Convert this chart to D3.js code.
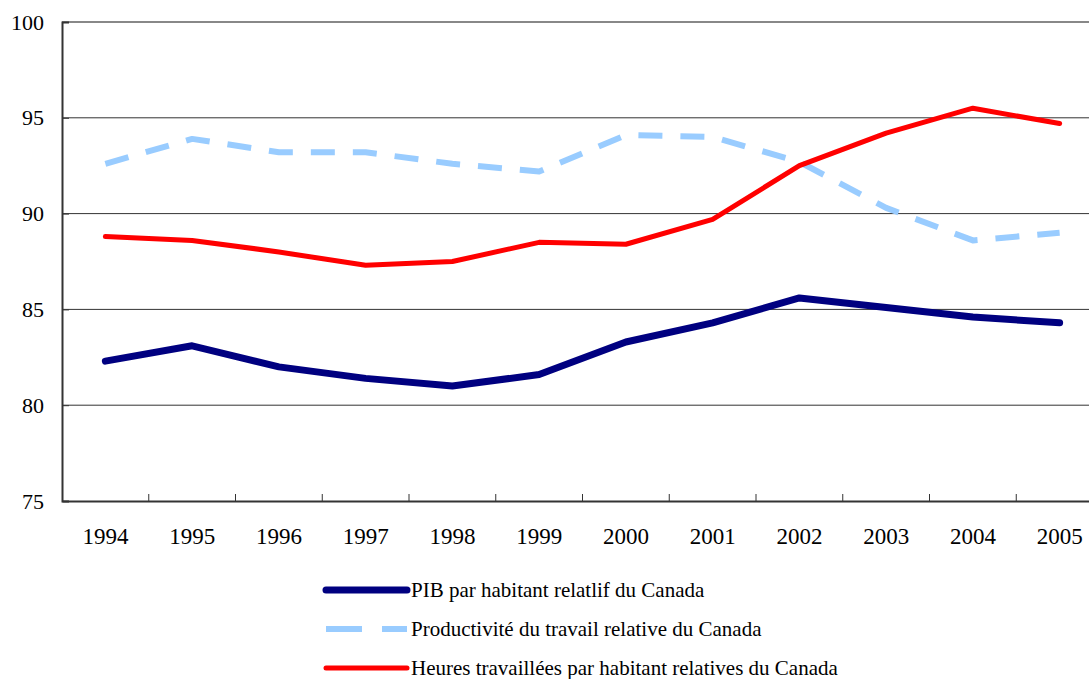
<!DOCTYPE html>
<html><head><meta charset="utf-8">
<script src="https://cdn.jsdelivr.net/npm/d3@7"></script>
<style>body{margin:0;background:#fff}svg{display:block}</style>
</head><body>
<script>
const years = ["1994","1995","1996","1997","1998","1999","2000","2001","2002","2003","2004","2005"];
const pib = [82.3,83.1,82.0,81.4,81.0,81.6,83.3,84.3,85.6,85.1,84.6,84.3];
const productivite = [92.6,93.9,93.2,93.2,92.6,92.2,94.1,94.0,92.7,90.3,88.6,89.0];
const heures = [88.8,88.6,88.0,87.3,87.5,88.5,88.4,89.7,92.5,94.2,95.5,94.7];
const yTicks = [75,80,85,90,95,100];
const seriesNames = ["PIB par habitant relatlif du Canada","Productivité du travail relative du Canada","Heures travaillées par habitant relatives du Canada"];

const W=1089,H=679;
const svg=d3.select("body").append("svg").attr("width",W).attr("height",H);
const font="'Liberation Serif','Times New Roman',serif";
const x=d3.scaleBand().domain(years).range([62,1103]);
const y=d3.scaleLinear().domain([75,100]).range([501,22]);

// gridlines
svg.append("g").selectAll("line").data(yTicks.filter(d=>d>75)).join("line")
  .attr("x1",62).attr("x2",1103).attr("y1",d=>y(d)).attr("y2",d=>y(d))
  .attr("stroke",d=>d===100?"#888":"#333").attr("stroke-width",d=>d===100?2:1);

// y axis
const ya=svg.append("g").attr("transform","translate(62,0)")
  .call(d3.axisRight(y).tickValues(yTicks).tickSize(7).tickFormat(d3.format("d")));
ya.attr("font-family",font);
ya.select(".domain").attr("stroke","#333").attr("stroke-width",2);
ya.selectAll(".tick line").attr("stroke","#333");
ya.selectAll("text").attr("x",-18).attr("text-anchor","end").style("font-family",font).attr("font-size",22).attr("fill","#000");

// x axis
const xa=svg.append("g").attr("transform","translate(0,501)")
  .call(d3.axisBottom(x).tickSize(0).tickPadding(0));
xa.attr("font-family",font);
xa.select(".domain").attr("stroke","#333").attr("stroke-width",2);
xa.selectAll("text").attr("y",43).attr("dy",0).style("font-family",font).attr("font-size",23).attr("fill","#000");
svg.append("g").selectAll("line").data(years).join("line")
  .attr("x1",d=>x(d)+x.bandwidth()).attr("x2",d=>x(d)+x.bandwidth())
  .attr("y1",501).attr("y2",494).attr("stroke","#333").attr("stroke-width",1);

const series=[
  {name:seriesNames[0],data:pib,color:"#000080",w:7,dash:null},
  {name:seriesNames[1],data:productivite,color:"#99ccff",w:6,dash:"24,18"},
  {name:seriesNames[2],data:heures,color:"#ff0000",w:5,dash:null}
];
const line=d3.line().x((d,i)=>x(years[i])+x.bandwidth()/2).y(d=>y(d));
svg.append("g").selectAll("path").data(series).join("path")
  .attr("d",d=>line(d.data)).attr("fill","none").attr("stroke",d=>d.color)
  .attr("stroke-width",d=>d.w).attr("stroke-dasharray",d=>d.dash)
  .attr("stroke-linejoin","round").attr("stroke-linecap",d=>d.dash?"butt":"round");

// legend
const lg=svg.append("g").selectAll("g").data(series).join("g")
  .attr("transform",(d,i)=>`translate(0,${590+i*39})`);
lg.append("line").attr("x1",326).attr("x2",407).attr("y1",0).attr("y2",0)
  .attr("stroke",d=>d.color).attr("stroke-width",d=>d.w)
  .attr("stroke-dasharray",d=>d.dash?"36,20":null).attr("stroke-linecap",d=>d.dash?"butt":"round");
lg.append("text").attr("x",411).attr("y",7).text(d=>d.name)
  .style("font-family",font).attr("font-size",21).attr("fill","#000");
</script>
</body></html>
